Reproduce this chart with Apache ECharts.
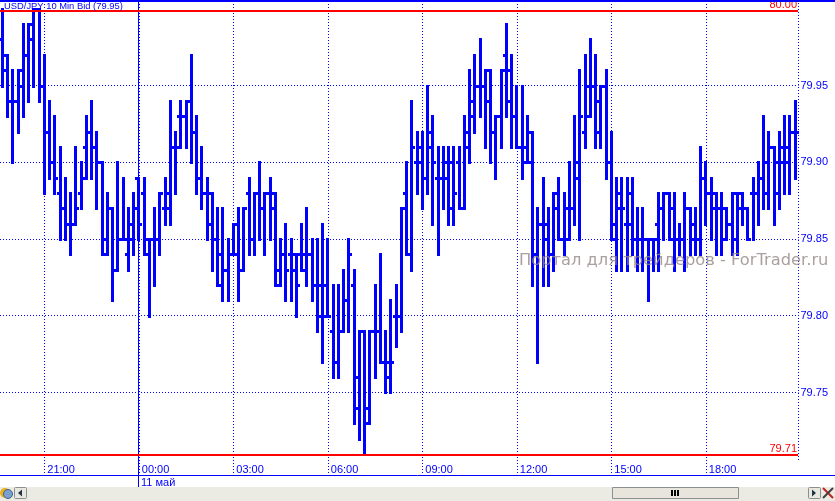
<!DOCTYPE html>
<html>
<head>
<meta charset="utf-8">
<style>
  html, body { margin: 0; padding: 0; background: #fff; }
  #main { width: 835px; height: 501px; }
</style>
<script src="https://cdn.jsdelivr.net/npm/echarts@6/dist/echarts.min.js"></script>
</head>
<body>
<div id="main"></div>
<script>
// 10 min bars
const opens = [79.98,79.97,79.94,79.94,79.96,79.97,79.98,80.00,79.95,79.92,79.90,79.88,79.87,79.86,79.86,79.88,79.91,79.92,79.91,79.90,
  79.85,79.87,79.83,79.85,79.84,79.85,79.89,79.88,79.85,79.85,79.85,79.87,79.88,79.91,79.93,79.93,79.94,79.92,79.89,79.88,
  79.88,79.85,79.84,79.83,79.84,79.84,79.83,79.88,79.85,79.88,79.87,79.88,79.88,79.83,79.84,79.84,79.84,79.84,79.83,79.84,
  79.82,79.82,79.82,79.79,79.77,79.79,79.81,79.82,79.76,79.79,79.73,79.79,79.79,79.77,79.76,79.80,79.80,79.88,79.84,79.90,
  79.91,79.89,79.92,79.89,79.89,79.89,79.90,79.90,79.87,79.92,79.93,79.95,79.95,79.96,79.92,79.93,79.97,79.96,79.93,79.91,
  79.91,79.90,79.84,79.86,79.86,79.84,79.88,79.85,79.85,79.87,79.90,79.92,79.95,79.95,79.94,79.95,79.90,79.85,79.88,79.86,
  79.88,79.85,79.85,79.85,79.85,79.86,79.87,79.88,79.87,79.85,79.85,79.87,79.86,79.85,79.89,79.88,79.88,79.87,79.85,79.86,
  79.88,79.87,79.87,79.88,79.88,79.89,79.88,79.91,79.90,79.91,79.91,79.92];
const highs = [80.00,79.97,79.96,79.96,79.99,79.99,80.00,80.00,79.97,79.94,79.93,79.91,79.89,79.88,79.91,79.90,79.93,79.94,79.92,79.90,
  79.88,79.87,79.90,79.89,79.87,79.88,79.89,79.89,79.85,79.87,79.88,79.89,79.94,79.92,79.94,79.94,79.97,79.93,79.91,79.89,
  79.88,79.87,79.87,79.85,79.86,79.87,79.87,79.89,79.88,79.90,79.88,79.89,79.88,79.85,79.86,79.85,79.84,79.86,79.87,79.85,
  79.85,79.86,79.85,79.82,79.82,79.83,79.85,79.83,79.79,79.79,79.79,79.82,79.84,79.79,79.81,79.82,79.87,79.90,79.94,79.92,
  79.92,79.95,79.93,79.91,79.91,79.91,79.91,79.91,79.93,79.96,79.97,79.98,79.96,79.96,79.93,79.96,79.99,79.97,79.95,79.95,
  79.93,79.92,79.87,79.89,79.87,79.88,79.89,79.88,79.90,79.93,79.96,79.97,79.98,79.97,79.95,79.96,79.92,79.89,79.89,79.89,
  79.89,79.87,79.87,79.85,79.85,79.88,79.88,79.88,79.88,79.86,79.88,79.87,79.87,79.91,79.90,79.89,79.88,79.88,79.87,79.88,
  79.88,79.88,79.87,79.89,79.90,79.93,79.92,79.91,79.92,79.93,79.93,79.94];
const lows = [79.95,79.93,79.90,79.92,79.93,79.94,79.95,79.94,79.88,79.89,79.88,79.85,79.85,79.84,79.86,79.87,79.89,79.89,79.87,79.84,
  79.84,79.81,79.83,79.85,79.83,79.84,79.85,79.84,79.80,79.82,79.84,79.86,79.86,79.88,79.91,79.91,79.90,79.88,79.87,79.85,
  79.83,79.82,79.81,79.81,79.84,79.81,79.83,79.84,79.84,79.85,79.84,79.85,79.82,79.82,79.81,79.81,79.80,79.83,79.82,79.81,
  79.79,79.77,79.80,79.76,79.76,79.79,79.79,79.73,79.72,79.71,79.73,79.76,79.77,79.75,79.75,79.78,79.79,79.84,79.83,79.88,
  79.87,79.88,79.86,79.84,79.87,79.86,79.86,79.87,79.87,79.90,79.92,79.93,79.91,79.90,79.89,79.91,79.93,79.91,79.91,79.89,
  79.90,79.82,79.77,79.82,79.82,79.83,79.85,79.84,79.85,79.86,79.85,79.91,79.93,79.91,79.91,79.89,79.85,79.83,79.83,79.83,
  79.84,79.83,79.83,79.81,79.83,79.83,79.85,79.85,79.83,79.84,79.83,79.84,79.84,79.84,79.86,79.85,79.84,79.84,79.85,79.84,
  79.84,79.86,79.85,79.85,79.86,79.87,79.87,79.86,79.87,79.88,79.88,79.89];
const closes = [79.96,79.94,79.94,79.95,79.97,79.99,80.00,79.95,79.92,79.90,79.89,79.87,79.86,79.86,79.87,79.89,79.92,79.91,79.90,79.84,
  79.87,79.83,79.85,79.85,79.86,79.87,79.86,79.84,79.85,79.85,79.88,79.87,79.91,79.91,79.93,79.94,79.92,79.89,79.88,79.86,
  79.85,79.82,79.83,79.84,79.86,79.83,79.87,79.85,79.88,79.87,79.88,79.87,79.82,79.84,79.83,79.83,79.82,79.84,79.84,79.82,
  79.80,79.80,79.80,79.77,79.79,79.81,79.84,79.74,79.79,79.74,79.79,79.79,79.77,79.77,79.77,79.80,79.87,79.84,79.91,79.90,
  79.89,79.91,79.90,79.89,79.90,79.87,79.88,79.87,79.91,79.94,79.95,79.95,79.94,79.92,79.93,79.96,79.94,79.93,79.91,79.90,
  79.92,79.84,79.86,79.85,79.84,79.87,79.85,79.87,79.87,79.89,79.93,79.93,79.95,79.92,79.95,79.90,79.86,79.87,79.87,79.86,
  79.85,79.85,79.85,79.85,79.85,79.87,79.88,79.85,79.85,79.85,79.87,79.85,79.85,79.89,79.88,79.87,79.87,79.87,79.86,79.85,
  79.88,79.87,79.85,79.88,79.89,79.90,79.91,79.88,79.90,79.90,79.92,79.92];

const priceTicks = [79.75, 79.80, 79.85, 79.90, 79.95];
const timeTickBars = [8, 26, 44, 62, 80, 98, 116, 134];
const timeTickLabels = ['21:00', '00:00', '03:00', '06:00', '09:00', '12:00', '15:00', '18:00'];
const dayBars = [26];
const levelPrices = [79.9985, 79.7093];   // the red lines sit just off the 80.00 / 79.71 prices
const levelLabels = ['80.00', '79.71'];
const BLUE = '#0000ff';
const FONT = '"Liberation Sans", Arial, sans-serif';

const bars = opens.map(function (o, i) { return [i, o, highs[i], lows[i], closes[i]]; });

function renderBar(params, api) {
  const i = api.value(0);
  const x = Math.round(api.coord([i, 0])[0] - 1.5);
  const yo = Math.round(api.coord([i, api.value(1)])[1]);
  const yh = Math.round(api.coord([i, api.value(2)])[1]);
  const yl = Math.round(api.coord([i, api.value(3)])[1]);
  const yc = Math.round(api.coord([i, api.value(4)])[1]);
  const style = { fill: BLUE };
  return {
    type: 'group',
    children: [
      { type: 'rect', shape: { x: x, y: yh - 1, width: 3, height: yl - yh + 3 }, style: style },
      { type: 'rect', shape: { x: x - 2, y: yo - 1, width: 2, height: 3 }, style: style },
      { type: 'rect', shape: { x: x + 3, y: yc - 1, width: 2, height: 3 }, style: style }
    ]
  };
}

function renderDayLine(params, api) {
  const c = api.coord([api.value(0), 80]);
  const x = Math.round(c[0]) - 0.5;
  return {
    type: 'line',
    shape: { x1: x, y1: 0, x2: x, y2: 487 },
    style: { stroke: BLUE, lineWidth: 1 }
  };
}

function renderLevel(params, api) {
  const c = api.coord([0, api.value(0)]);
  const y = Math.round(c[1]);
  return {
    type: 'group',
    children: [
      { type: 'rect', shape: { x: 0, y: y - 1, width: 798, height: 2 }, style: { fill: '#ff0000' } },
      { type: 'text', style: {
          x: 797, y: y - 1, text: levelLabels[params.dataIndex], align: 'right', verticalAlign: 'bottom',
          fill: '#ff0000', font: '11px ' + FONT
      } }
    ]
  };
}

const myChart = echarts.init(document.getElementById('main'));

myChart.setOption({
  animation: false,
  backgroundColor: '#fff',
  title: {
    text: 'USD/JPY 10 Min Bid (79.95)', left: 4, top: 2, padding: 0,
    textStyle: { color: BLUE, fontSize: 9.4, fontWeight: 'normal', fontFamily: FONT }
  },
  grid: { left: 0, top: 1, width: 798.5, height: 474 },
  xAxis: {
    type: 'value',
    min: -0.438,
    max: 151.657,
    axisLine: { show: false },
    axisTick: { show: false, customValues: timeTickBars },
    axisLabel: {
      customValues: timeTickBars,
      formatter: function (v) { return timeTickLabels[timeTickBars.indexOf(v)]; },
      inside: true, margin: 0, align: 'left', verticalAlign: 'bottom', padding: [0, 0, 0, 3],
      color: BLUE, fontSize: 11, fontFamily: FONT
    },
    splitLine: { show: true, lineStyle: { color: BLUE, width: 1, type: [1, 2] } }
  },
  yAxis: {
    type: 'value',
    position: 'right',
    min: 79.69625,
    max: 80.00505,
    axisLine: { show: false },
    axisTick: { show: false, customValues: priceTicks },
    axisLabel: {
      customValues: priceTicks,
      formatter: function (v) { return v.toFixed(2); },
      margin: 2, color: BLUE, fontSize: 11, fontFamily: FONT
    },
    splitLine: { show: true, lineStyle: { color: BLUE, width: 1, type: [1, 2] } }
  },
  series: [
    { type: 'custom', name: 'day', renderItem: renderDayLine, data: dayBars.map(function (d) { return [d]; }), encode: { x: 0 }, z: 2 },
    { type: 'custom', name: 'USD/JPY', renderItem: renderBar, data: bars, encode: { x: 0, y: [1, 2, 3, 4] }, z: 3 },
    { type: 'custom', name: 'levels', renderItem: renderLevel, data: levelPrices.map(function (p) { return [p]; }), encode: { y: 0 }, z: 4 }
  ],
  graphic: { elements: [
    // window frame lines
    { type: 'rect', shape: { x: 0, y: 0, width: 835, height: 2 }, style: { fill: BLUE }, z: 5 },
    { type: 'line', shape: { x1: 0, y1: 475.5, x2: 835, y2: 475.5 }, style: { stroke: BLUE, lineWidth: 1 }, z: 5 },
    { type: 'line', shape: { x1: 798.5, y1: 0, x2: 798.5, y2: 460 }, style: { stroke: BLUE, lineWidth: 1, lineDash: [1, 2] }, z: 5 },
    { type: 'text', style: { x: 141, y: 477.5, text: '11 май', fill: BLUE, font: '11px ' + FONT }, z: 5 },
    // watermark
    { type: 'text', style: {
        x: 519, y: 261, text: 'Портал для трейдеров - ForTrader.ru', verticalAlign: 'middle',
        fill: 'rgba(150,135,135,0.8)', font: '16.3px "DejaVu Sans", sans-serif'
    }, z: 20 },
    // scrollbar
    { type: 'rect', shape: { x: 0, y: 487, width: 835, height: 14 }, style: { fill: '#ecebe3' }, z: 10 },
    { type: 'circle', shape: { cx: 5, cy: 493, r: 5 }, style: { fill: '#e8b020' }, z: 11 },
    { type: 'circle', shape: { cx: 8, cy: 494, r: 4.5 }, style: { fill: '#7aa0d0', stroke: '#40608a', lineWidth: 1 }, z: 11 },
    { type: 'rect', shape: { x: 14.5, y: 487.5, width: 12, height: 11, r: 1 }, style: { fill: '#e8e8e0', stroke: '#8a9090' }, z: 11 },
    { type: 'polygon', shape: { points: [[18, 493], [22, 489.5], [22, 496.5]] }, style: { fill: '#223344' }, z: 12 },
    { type: 'rect', shape: { x: 612.5, y: 487.5, width: 126, height: 11 }, style: { fill: '#e8e6dc', stroke: '#8a9090' }, z: 11 },
    { type: 'rect', shape: { x: 671, y: 490, width: 2, height: 6 }, style: { fill: '#000' }, z: 12 },
    { type: 'rect', shape: { x: 674, y: 490, width: 2, height: 6 }, style: { fill: '#000' }, z: 12 },
    { type: 'rect', shape: { x: 677, y: 490, width: 2, height: 6 }, style: { fill: '#000' }, z: 12 },
    { type: 'rect', shape: { x: 808.5, y: 487.5, width: 12, height: 11, r: 1 }, style: { fill: '#e8e8e0', stroke: '#8a9090' }, z: 11 },
    { type: 'polygon', shape: { points: [[816, 493], [812, 489.5], [812, 496.5]] }, style: { fill: '#223344' }, z: 12 },
    { type: 'line', shape: { x1: 823, y1: 488, x2: 833, y2: 498 }, style: { stroke: '#c02020', lineWidth: 2 }, z: 11 },
    { type: 'line', shape: { x1: 833, y1: 488, x2: 823, y2: 498 }, style: { stroke: '#404040', lineWidth: 2 }, z: 11 }
  ] }
});
</script>
</body>
</html>
